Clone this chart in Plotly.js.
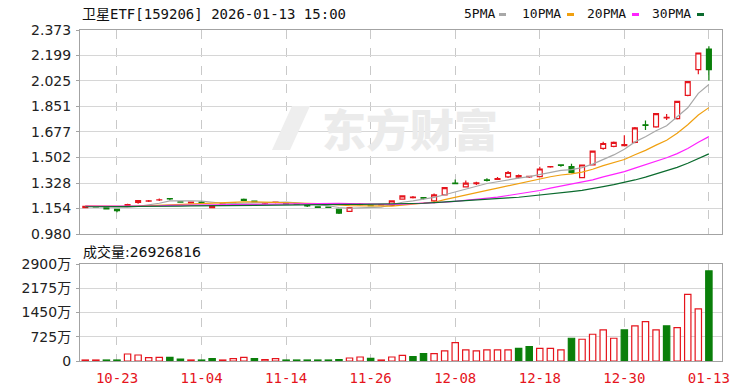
<!DOCTYPE html>
<html><head><meta charset="utf-8">
<script src="https://cdn.plot.ly/plotly-3.0.1.min.js"></script>
<style>html,body{margin:0;padding:0;background:#fff}#chart{width:750px;height:391px}</style>
</head><body><div id="chart"></div>
<script>
const dates = ["10-20","10-21","10-22","10-23","10-24","10-27","10-28","10-29","10-30","10-31",
"11-03","11-04","11-05","11-06","11-07","11-10","11-11","11-12","11-13","11-14",
"11-17","11-18","11-19","11-20","11-21","11-24","11-25","11-26","11-27","11-28",
"12-01","12-02","12-03","12-04","12-05","12-08","12-09","12-10","12-11","12-12",
"12-15","12-16","12-17","12-18","12-19","12-22","12-23","12-24","12-25","12-26",
"12-29","12-30","12-31","01-05","01-06","01-07","01-08","01-09","01-12","01-13"];
const openP = [1.160,1.167,1.161,1.148,1.176,1.195,1.205,1.212,1.222,1.200,
1.192,1.197,1.160,1.185,1.190,1.216,1.205,1.190,1.195,1.190,
1.186,1.176,1.166,1.164,1.149,1.135,1.180,1.178,1.178,1.175,
1.218,1.229,1.228,1.206,1.247,1.328,1.302,1.324,1.349,1.353,
1.370,1.368,1.370,1.372,1.438,1.452,1.440,1.365,1.452,1.565,
1.578,1.583,1.605,1.726,1.712,1.773,1.768,1.926,2.103,2.243];
const highP = [1.171,1.169,1.163,1.150,1.186,1.211,1.213,1.222,1.223,1.202,
1.199,1.205,1.175,1.190,1.194,1.222,1.206,1.198,1.200,1.192,
1.188,1.177,1.167,1.166,1.152,1.163,1.190,1.180,1.183,1.208,
1.242,1.240,1.229,1.256,1.300,1.352,1.345,1.336,1.360,1.370,
1.410,1.386,1.377,1.440,1.445,1.453,1.460,1.455,1.550,1.610,
1.612,1.655,1.710,1.755,1.806,1.800,1.890,2.025,2.220,2.262];
const lowP = [1.157,1.162,1.150,1.128,1.170,1.186,1.198,1.205,1.210,1.195,
1.190,1.185,1.158,1.183,1.188,1.207,1.198,1.182,1.190,1.184,
1.183,1.164,1.160,1.160,1.116,1.130,1.175,1.170,1.174,1.172,
1.216,1.222,1.215,1.190,1.245,1.322,1.298,1.314,1.338,1.352,
1.362,1.360,1.362,1.368,1.432,1.440,1.395,1.360,1.450,1.555,
1.572,1.581,1.600,1.690,1.705,1.758,1.762,1.920,2.070,2.028];
const closeP = [1.168,1.165,1.152,1.140,1.180,1.208,1.207,1.214,1.219,1.198,
1.197,1.195,1.172,1.187,1.192,1.210,1.200,1.192,1.197,1.186,
1.184,1.172,1.162,1.162,1.123,1.161,1.183,1.174,1.180,1.206,
1.240,1.232,1.224,1.247,1.297,1.324,1.327,1.329,1.346,1.358,
1.400,1.378,1.374,1.424,1.441,1.449,1.400,1.451,1.546,1.598,
1.605,1.590,1.705,1.722,1.802,1.777,1.886,2.021,2.216,2.103];
const ma5 = [1.168,1.166,1.163,1.158,1.161,1.169,1.177,1.190,1.206,1.209,
1.207,1.205,1.196,1.190,1.189,1.191,1.192,1.196,1.198,1.197,
1.192,1.186,1.180,1.173,1.161,1.156,1.158,1.161,1.164,1.181,
1.197,1.206,1.216,1.230,1.248,1.266,1.285,1.305,1.325,1.337,
1.351,1.361,1.372,1.387,1.404,1.414,1.419,1.433,1.457,1.489,
1.520,1.558,1.609,1.644,1.685,1.719,1.778,1.842,1.940,2.001];
const ma10 = [1.172,1.171,1.169,1.167,1.168,1.171,1.174,1.178,1.182,1.185,
1.188,1.191,1.193,1.198,1.199,1.199,1.199,1.196,1.194,1.193,
1.192,1.189,1.188,1.186,1.179,1.174,1.172,1.171,1.169,1.171,
1.177,1.182,1.189,1.197,1.215,1.232,1.246,1.261,1.278,1.293,
1.309,1.323,1.339,1.356,1.371,1.383,1.390,1.403,1.422,1.447,
1.467,1.489,1.521,1.551,1.587,1.620,1.668,1.726,1.792,1.843];
const ma20 = [1.170,1.170,1.169,1.168,1.168,1.169,1.171,1.173,1.175,1.176,
1.178,1.180,1.181,1.182,1.184,1.185,1.186,1.187,1.188,1.189,
1.190,1.190,1.191,1.192,1.189,1.187,1.185,1.183,1.181,1.182,
1.184,1.186,1.188,1.191,1.197,1.203,1.209,1.216,1.223,1.232,
1.243,1.253,1.264,1.277,1.293,1.307,1.318,1.332,1.350,1.370,
1.388,1.406,1.430,1.453,1.479,1.501,1.529,1.564,1.607,1.645];
const ma30 = [1.166,1.166,1.166,1.166,1.167,1.167,1.168,1.169,1.170,1.171,
1.172,1.173,1.174,1.175,1.176,1.177,1.178,1.178,1.179,1.180,
1.180,1.181,1.181,1.182,1.182,1.182,1.182,1.183,1.183,1.183,
1.185,1.187,1.190,1.194,1.198,1.202,1.205,1.209,1.213,1.219,
1.226,1.231,1.238,1.246,1.255,1.263,1.269,1.278,1.289,1.303,
1.317,1.331,1.349,1.368,1.391,1.411,1.435,1.463,1.497,1.527];
// volume in 万 (10,000 shares)
const volume = [30,30,30,30,210,180,100,110,110,60,
30,30,70,30,70,110,70,40,70,30,
30,30,30,30,40,90,120,80,30,120,
170,130,220,220,300,550,330,300,330,330,
330,380,430,380,380,330,680,650,800,930,
680,930,1050,1180,930,1050,1000,1990,1560,2692.6816];
const volUp = [1,1,0,0,1,1,1,1,0,0,1,0,0,1,1,1,0,1,1,0,0,0,0,0,0,1,1,0,1,1,
1,0,0,1,1,1,1,1,1,1,1,0,0,1,1,1,0,1,1,1,1,0,1,1,1,0,1,1,1,0];
const tickDates = ["10-23","11-04","11-14","11-26","12-08","12-18","12-30","01-13"];
const priceTicks = [0.980,1.154,1.328,1.502,1.677,1.851,2.025,2.199,2.373];
const volTicks = [0,725,1450,2175,2900];
const volTickText = ["0","725万","1450万","2175万","2900万"];
const titleText = "卫星ETF[159206] 2026-01-13 15:00";
const volLabel = "成交量:26926816";
const maNames = ["5PMA","10PMA","20PMA","30PMA"];

const RED = "#e5141c", GREEN = "#0a7f0a";
const maColors = ["#a8a8a8","#f0a010","#ff22ff","#0b6b2e"];
const W = 750, H = 391, L = 80, R = 28, T = 30, B = 30;
const pw = W - L - R, ph = H - T - B;
const px = v => (v - L) / pw;
const py = v => (H - B - v) / ph;

const traces = [];
[ma5, ma10, ma20, ma30].forEach((m, k) => {
  traces.push({type:"scatter", mode:"lines", x:dates, y:m, xaxis:"x", yaxis:"y",
    line:{color:maColors[k], width:1.2}, hoverinfo:"skip", showlegend:false});
});
traces.push({type:"candlestick", x:dates, open:openP, high:highP, low:lowP, close:closeP,
  xaxis:"x", yaxis:"y", whiskerwidth:0,
  increasing:{line:{color:RED, width:1.2}, fillcolor:"#ffffff"},
  decreasing:{line:{color:GREEN, width:1.2}, fillcolor:GREEN},
  hoverinfo:"skip", showlegend:false});
traces.push({type:"bar", x:dates, y:volume, xaxis:"x2", yaxis:"y2", width:0.6,
  marker:{color:volUp.map(u => u ? "#ffffff" : GREEN),
          line:{color:volUp.map(u => u ? RED : GREEN), width:1.2}},
  hoverinfo:"skip", showlegend:false});

const annotations = [
  {text:titleText, xref:"paper", yref:"paper", x:px(80), y:py(14), xanchor:"left", yanchor:"middle",
   showarrow:false, font:{family:"DejaVu Sans Mono, Noto Sans CJK SC", size:14, color:"#111"}},
  {text:volLabel, xref:"paper", yref:"paper", x:px(81), y:py(252), xanchor:"left", yanchor:"middle",
   showarrow:false, font:{family:"DejaVu Sans, Noto Sans CJK SC", size:14, color:"#111"}},
  {text:"东方财富", xref:"paper", yref:"paper", x:px(410), y:py(128), xanchor:"center", yanchor:"middle",
   showarrow:false, font:{family:"Noto Sans CJK SC", size:44, color:"#ebebeb", weight:900}}
];
const legX = [462, 520, 585, 650];
const swX = [499, 567, 632, 697];
const shapes = [];
maNames.forEach((n, k) => {
  annotations.push({text:n, xref:"paper", yref:"paper", x:px(legX[k]), y:py(14), xanchor:"left", yanchor:"middle",
    showarrow:false, font:{family:"DejaVu Sans Mono", size:13, color:"#111"}});
  shapes.push({type:"rect", xref:"paper", yref:"paper", x0:px(swX[k]), x1:px(swX[k]+7), y0:py(16), y1:py(13),
    fillcolor:maColors[k], line:{width:0}});
});
// logo mark of watermark
shapes.push({type:"path", xref:"paper", yref:"paper", layer:"above",
  path:`M ${px(292)} ${py(106)} L ${px(310)} ${py(106)} L ${px(290)} ${py(150)} L ${px(272)} ${py(150)} Z`,
  fillcolor:"#eeeeee", line:{width:0}});

const gridC = "#d6d6d6", frameC = "#a3a3a3";
const layout = {
  width:W, height:H, margin:{l:L, r:R, t:T, b:B}, paper_bgcolor:"#fff", plot_bgcolor:"#fff",
  showlegend:false, boxgap:0.34,
  xaxis:{type:"category", range:[-0.5, 60.24], tickvals:tickDates, showticklabels:false,
    showgrid:true, gridcolor:"#c9c9c9", griddash:"dash", gridwidth:1,
    showline:true, mirror:true, linecolor:frameC, zeroline:false, ticks:"",
    rangeslider:{visible:false}, anchor:"y", fixedrange:true},
  yaxis:{domain:[py(234), 1], range:[0.980, 2.373], tickvals:priceTicks,
    ticktext:priceTicks.map(v => v.toFixed(3)), showgrid:true, gridcolor:gridC,
    showline:true, mirror:true, linecolor:frameC, zeroline:false,
    ticks:"outside", ticklen:3, tickcolor:frameC, ticklabelstandoff:2,
    tickfont:{family:"DejaVu Sans", size:14, color:"#222"}, fixedrange:true},
  xaxis2:{type:"category", matches:"x", range:[-0.5, 60.24], anchor:"y2", tickvals:tickDates, ticktext:tickDates,
    showgrid:true, gridcolor:"#c9c9c9", griddash:"dash", showline:true, mirror:true,
    linecolor:frameC, zeroline:false, ticks:"", ticklabelstandoff:4,
    tickfont:{family:"DejaVu Sans Mono", size:14, color:RED}, fixedrange:true},
  yaxis2:{domain:[0, py(264)], range:[0, 2900], tickvals:volTicks, ticktext:volTickText,
    showgrid:true, gridcolor:gridC, showline:true, mirror:true, linecolor:frameC, zeroline:false,
    ticks:"outside", ticklen:3, tickcolor:frameC, ticklabelstandoff:2,
    tickfont:{family:"DejaVu Sans, Noto Sans CJK SC", size:14, color:"#222"}, fixedrange:true},
  annotations:annotations, shapes:shapes
};
Plotly.newPlot("chart", traces, layout, {staticPlot:true, displayModeBar:false});
</script></body></html>
